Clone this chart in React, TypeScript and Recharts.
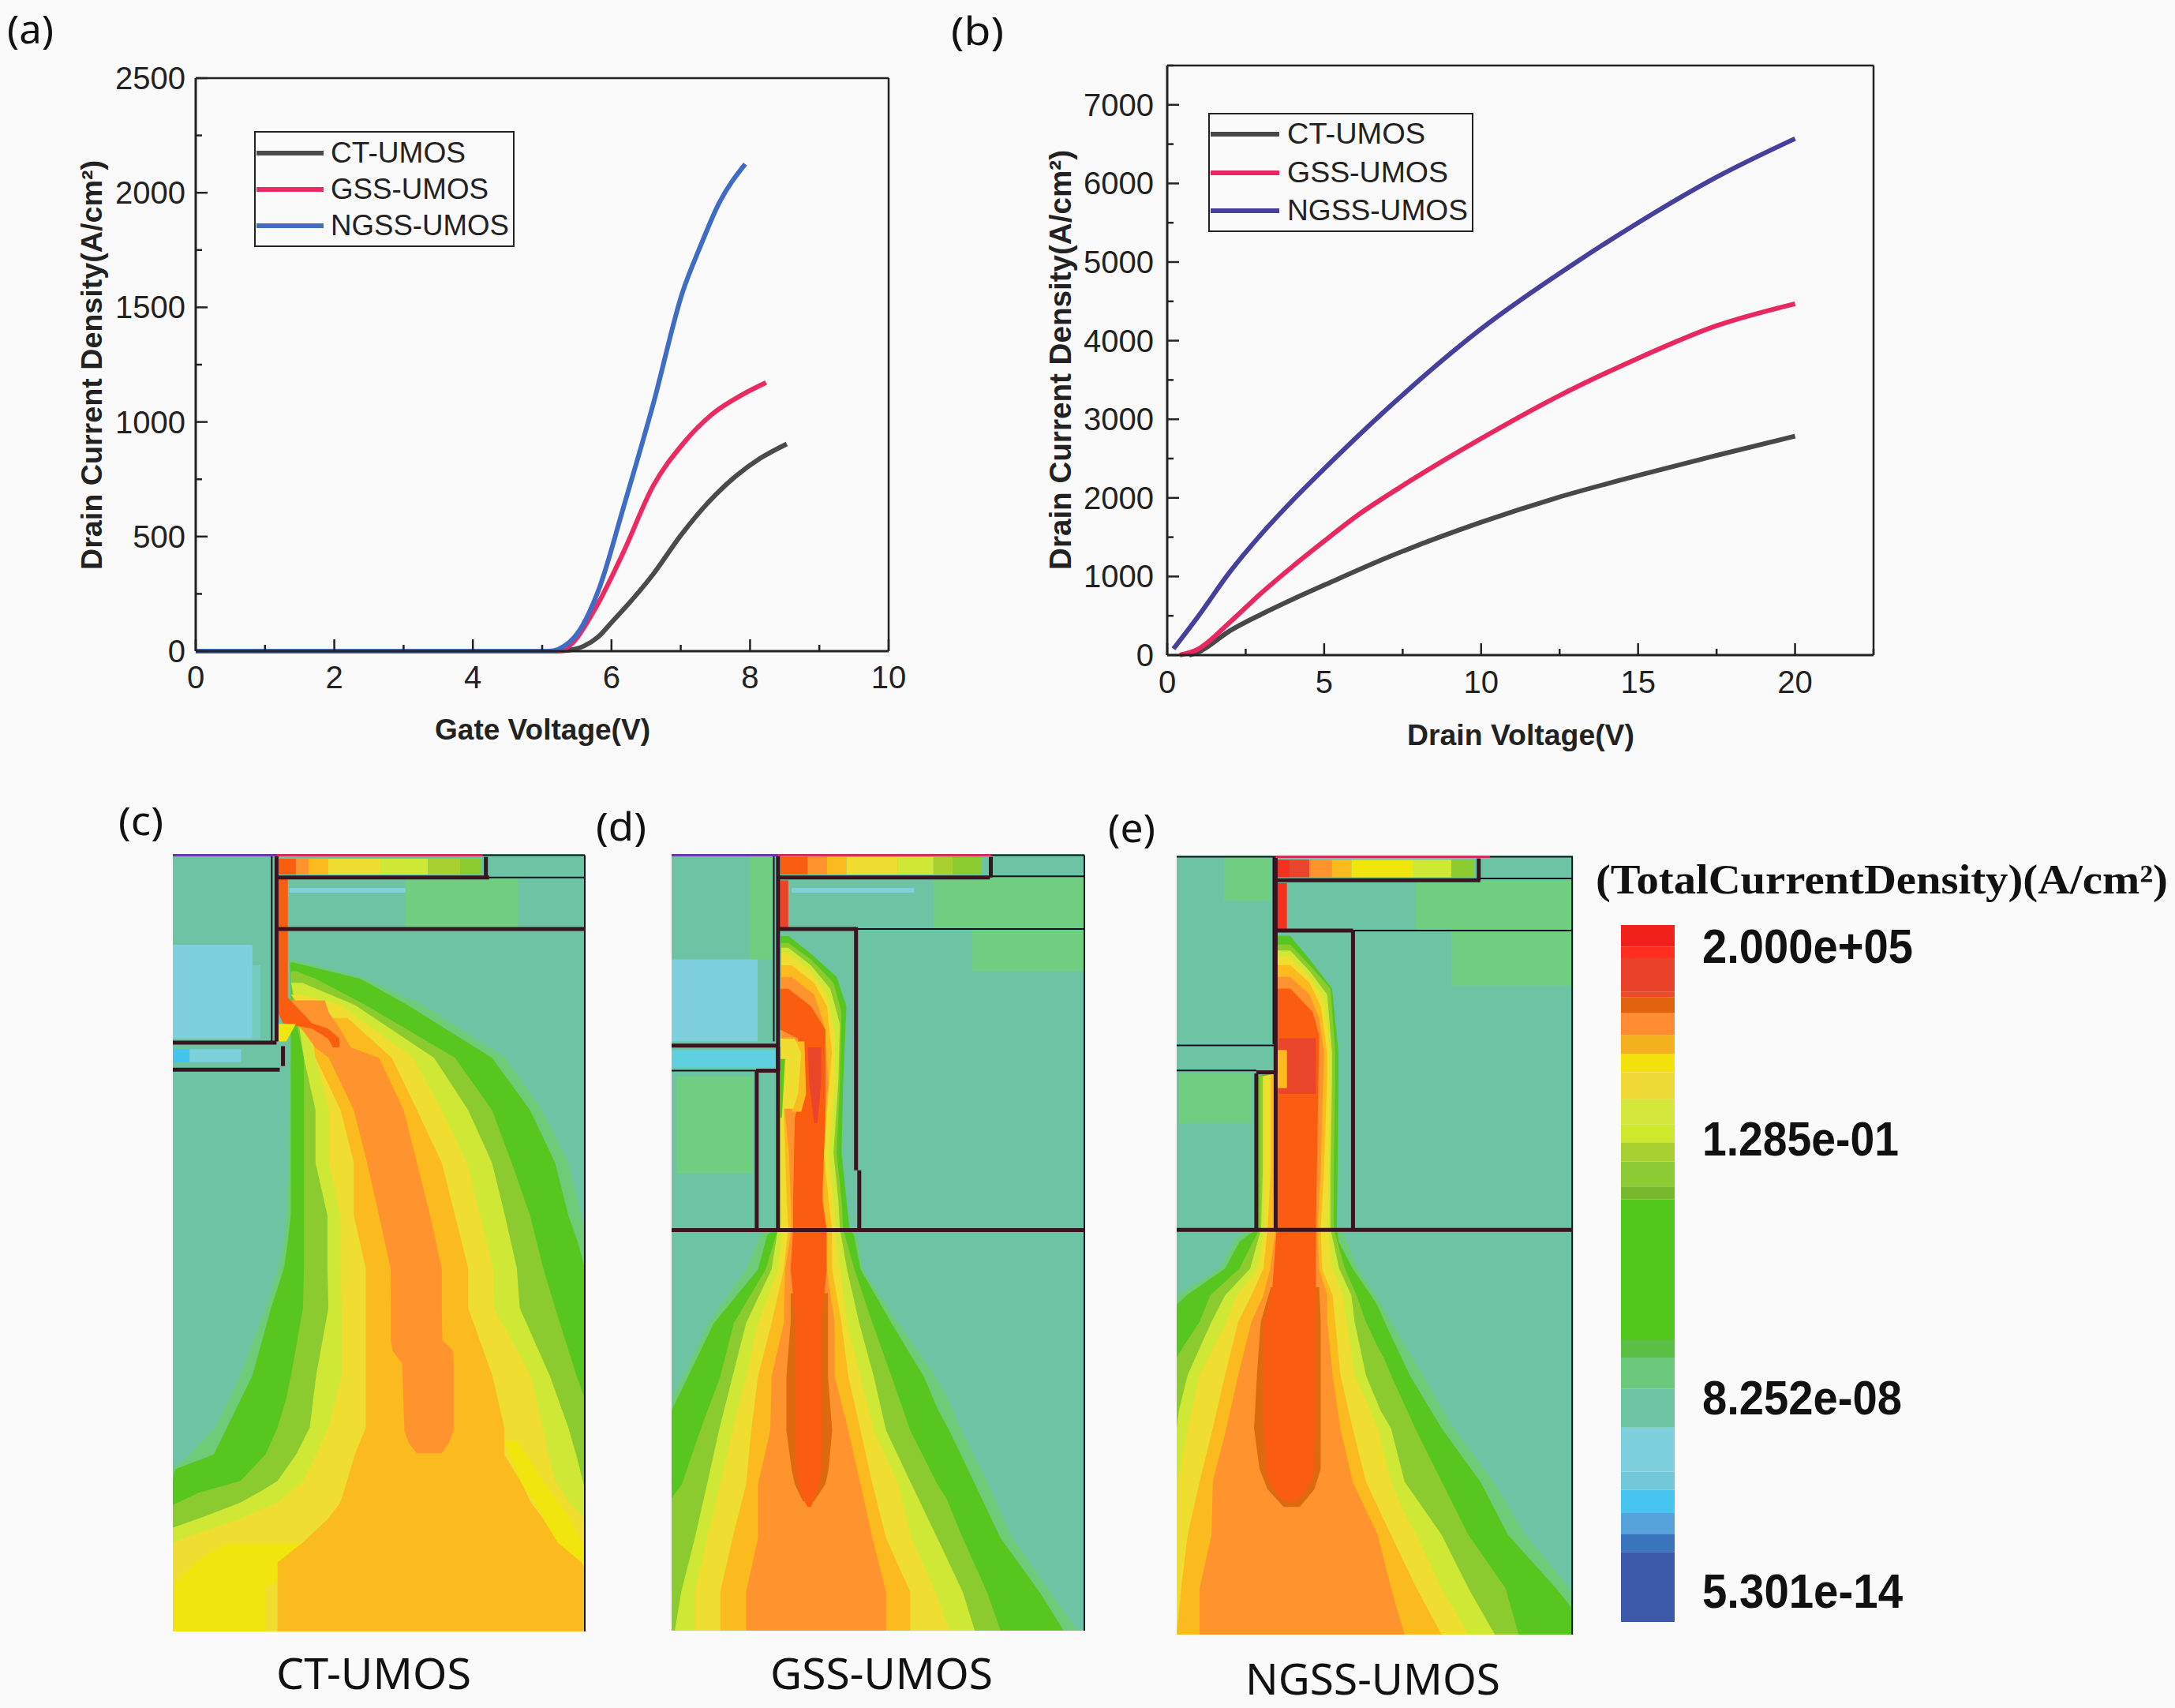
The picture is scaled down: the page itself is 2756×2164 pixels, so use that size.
import { Area, Bar, BarChart, ComposedChart, Line, LineChart, ReferenceLine, XAxis, YAxis } from 'recharts';

const W = 2756;
const H = 2164;
const sans = 'Liberation Sans';
const serif = 'Liberation Serif';
const label = 'Noto Sans';

// ---- (a) transfer curves
const gateTicks = [0, 1, 2, 3, 4, 5, 6, 7, 8, 9, 10];
const gateJTicks = [0, 250, 500, 750, 1000, 1250, 1500, 1750, 2000, 2250, 2500];
const ctGateV = [0, 5.2, 5.4, 5.6, 5.8, 6, 6.3, 6.6, 7, 7.4, 7.8, 8.14, 8.53];
const ctGateJ = [0, 0, 5, 22, 60, 125, 225, 335, 505, 650, 765, 840, 904];
const gssGateV = [0, 5.2, 5.4, 5.74, 6.17, 6.6, 7.03, 7.45, 7.88, 8.23];
const gssGateJ = [0, 0, 25, 172, 430, 720, 904, 1033, 1118, 1172];
const ngssGateV = [0, 5.1, 5.23, 5.53, 5.83, 6.17, 6.6, 7.03, 7.28, 7.54, 7.93];
const ngssGateJ = [0, 0, 8, 86, 280, 624, 1075, 1570, 1764, 1947, 2125];

// ---- (b) output curves
const drainTicks = [0, 2.5, 5, 7.5, 10, 12.5, 15, 17.5, 20, 22.5];
const drainJTicks = [0, 500, 1000, 1500, 2000, 2500, 3000, 3500, 4000, 4500, 5000, 5500, 6000, 6500, 7000, 7500];
const ctDrainV = [0.7, 1, 2, 3, 4, 5, 7, 10, 12.4, 15, 17.5, 20];
const ctDrainJ = [0, 40, 310, 520, 710, 890, 1240, 1690, 2000, 2285, 2540, 2786];
const gssDrainV = [0.4, 1, 2, 3, 4, 5, 6, 7.4, 10, 12.4, 15, 17.5, 20];
const gssDrainJ = [0, 80, 420, 790, 1130, 1450, 1760, 2130, 2754, 3282, 3776, 4190, 4470];
const ngssDrainV = [0.2, 1, 2, 3, 4, 5, 7, 10, 13, 15, 17.5, 20];
const ngssDrainJ = [80, 500, 1060, 1540, 1970, 2370, 3130, 4150, 4990, 5500, 6080, 6570];
const seriesNames = ['CT-UMOS', 'GSS-UMOS', 'NGSS-UMOS'];

// ---- colour scale, bottom to top
const scaleLabels = ['2.000e+05', '1.285e-01', '8.252e-08', '5.301e-14'];
const scaleBands = [135, 35, 40, 45, 35, 85, 75, 60, 35, 270, 25, 48, 37, 35, 48, 52, 35, 37, 43, 30, 10, 65, 22, 42];
const scaleColors = ['#3C58A8', '#3A74BC', '#58A2DC', '#48C4F0', '#70C8D8', '#7DD0DC', '#6CC4A4', '#6BC97C', '#5BBF45', '#52C81C', '#78B82C', '#8CCB34', '#A8D030', '#CEE82E', '#D4E83C', '#EFD935', '#F2E30C', '#F5B01E', '#FF8C30', '#E0620F', '#EE4A2A', '#E8432A', '#FF2E1E', '#F0201A'];

const teal = '#6CC4A4';
const pale = '#6FCE80';
const halo = '#6ECC78';
const sky = '#7DD0DC';
const green = '#57C71F';
const olive = '#8CCB30';
const lime = '#CFE835';
const yellow = '#EFDD30';
const bright = '#F0E60E';
const amber = '#FBBB1E';
const orange = '#FF932E';
const shell = '#DE6A10';
const deep = '#FA5C10';
const red = '#E8452A';
const maroon = '#3A1420';
const ink = '#14141E';
const purple = '#6A3AA8';
const crimson = '#D0305A';

type Row = number[];
const box = (y1: number, y2: number, l: number, r: number): Row[] => [[y1, l, r], [y2, l, r]];

// ---- (c) contour rows: depth, left edge, right edge
const cHalo = [[290,580,590],[323,585,817],[368,585,996],[458,585,1250],[547,580,1364],[637,578,1446],[727,570,1486],[760,565,1497],[817,545,1497],[885,506,1497],[1000,427,1497],[1089,349,1497],[1135,270,1497],[1160,218,1497],[1437,218,1497]];
const cGreen = [[295,582,590],[323,584,800],[368,584,947],[458,584,1209],[547,584,1327],[637,584,1405],[727,584,1446],[772,575,1475],[817,563,1497],[885,523,1497],[1000,465,1497],[1089,386,1497],[1135,345,1497],[1160,225,1497],[1180,218,1497],[1437,218,1497]];
const cOlive = [[310,585,600],[323,585,661],[368,590,817],[458,625,1094],[547,625,1209],[637,625,1270],[727,625,1327],[817,625,1368],[885,622,1405],[1000,585,1471],[1040,570,1497],[1089,543,1497],[1135,506,1497],[1180,428,1497],[1200,300,1497],[1221,218,1497],[1437,218,1497]];
const cLime = [[330,585,620],[368,600,784],[458,625,1029],[547,661,1135],[637,661,1209],[727,698,1249],[817,698,1286],[885,701,1295],[1000,663,1388],[1089,643,1446],[1135,601,1470],[1180,543,1491],[1195,500,1497],[1217,428,1497],[1244,300,1497],[1260,218,1497],[1437,218,1497]];
const cYellow = [[350,585,620],[368,610,739],[458,661,964],[547,702,1053],[637,702,1131],[727,739,1172],[817,739,1213],[885,742,1215],[1000,742,1330],[1089,701,1367],[1135,663,1385],[1180,622,1405],[1217,543,1450],[1244,428,1497],[1285,218,1497],[1437,218,1497]];
const cBrightLeft = [[1287,386,640],[1310,311,640],[1331,270,640],[1353,225,560],[1360,225,506],[1437,225,506]];
const cBrightRight = [[1112,1247,1288],[1180,1297,1367],[1240,1367,1446],[1294,1404,1497],[1322,1462,1497]];
const cAmber = [[390,640,760],[458,661,898],[547,739,976],[637,780,1053],[727,780,1094],[817,817,1135],[885,817,1135],[1000,817,1210],[1089,817,1247],[1135,783,1247],[1180,759,1297],[1217,738,1330],[1244,701,1367],[1285,622,1413],[1319,543,1487],[1330,543,1497],[1437,543,1497]];
const cOrange = [[360,545,690],[380,560,702],[410,620,739],[440,660,770],[458,702,858],[547,780,935],[637,821,976],[727,858,1017],[817,894,1053],[885,895,1053],[940,895,1055],[958,900,1088],[980,930,1090],[1094,937,1090],[1115,950,1075],[1133,975,1053]];
const cDeep = [[150,545,575],[355,545,575],[381,545,620],[399,560,650],[408,650,700],[425,700,735],[440,715,735]];
const cGlow = [[400,545,600],[430,545,570]];

// ---- (d)
const dHalo = [[752,530,820],[819,479,840],[911,362,951],[1002,283,1067],[1040,248,1105],[1094,248,1147],[1186,248,1230],[1278,248,1305],[1370,248,1422],[1436,248,1506]];
const dGreen = [[250,585,610],[280,590,680],[320,590,760],[370,590,790],[500,590,780],[620,580,775],[700,578,790],[750,575,800],[760,545,813],[819,516,834],[911,379,930],[1002,299,1030],[1060,248,1075],[1094,248,1109],[1186,248,1189],[1278,248,1268],[1370,248,1389],[1436,248,1464]];
const dOlive = [[262,588,610],[290,588,680],[330,588,750],[380,588,775],[500,585,770],[620,578,760],[700,578,775],[750,578,780],[819,540,815],[911,441,871],[1002,399,930],[1094,337,988],[1186,280,1072],[1210,248,1100],[1278,248,1151],[1370,248,1226],[1436,248,1268]];
const dLime = [[270,588,610],[300,588,680],[340,588,740],[400,588,770],[500,585,765],[620,580,750],[700,578,765],[750,578,770],[819,558,792],[911,479,830],[1002,437,875],[1094,395,913],[1186,358,992],[1278,320,1072],[1370,278,1151],[1436,258,1188]];
const dYellow = [[280,588,610],[310,588,680],[350,588,730],[420,588,755],[500,585,755],[620,585,735],[700,588,750],[750,590,755],[819,579,771],[911,516,792],[1002,479,834],[1094,437,875],[1186,399,951],[1278,358,992],[1370,320,1067],[1436,320,1109]];
const dAmber = [[300,588,620],[330,588,690],[370,590,730],[450,590,745],[620,600,720],[700,605,735],[750,610,745],[819,596,746],[911,558,775],[1002,516,796],[1094,495,834],[1186,479,871],[1278,437,913],[1370,399,988],[1436,399,988]];
const dOrange = [[320,588,620],[350,588,690],[400,588,720],[500,590,735],[620,612,710],[750,620,725],[819,600,729],[911,596,754],[1002,558,754],[1094,554,796],[1186,516,834],[1278,516,871],[1370,479,913],[1436,479,913]];
const dShell = [[860,617,733],[911,617,733],[1002,604,733],[1094,604,746],[1160,620,735],[1186,630,725],[1215,655,690]];
const dDeep = [[340,585,610],[370,585,680],[410,585,725],[425,640,725],[520,650,725],[560,630,725],[700,625,715],[750,625,729],[819,617,729],[911,633,713],[1002,633,713],[1094,633,713],[1160,633,713],[1186,640,705],[1205,650,695],[1225,670,680]];
const dRed = [[440,670,712],[500,675,712],[570,690,700]];
const dNotchAmber = [[430,625,660],[520,640,665],[550,620,650]];
const dNotchYellow = [[425,585,630],[450,585,650],[520,590,640],[545,590,625]];
const dNotchGreen = [[460,585,600],[560,585,590]];

// ---- (e)
const eHalo = [[752,460,760],[772,425,775],[818,381,810],[864,248,865],[909,248,913],[1000,248,1012],[1091,248,1107],[1182,248,1231],[1273,248,1330],[1364,248,1466],[1380,248,1477],[1443,248,1477]];
const eGreen = [[250,558,600],[290,558,660],[340,558,730],[450,558,750],[480,558,750],[490,500,750],[750,497,745],[772,443,750],[818,398,794],[864,278,851],[880,248,870],[909,248,893],[1000,248,971],[1091,248,1070],[1182,248,1190],[1273,248,1276],[1364,248,1425],[1400,248,1477],[1443,248,1477]];
const eOlive = [[265,558,600],[300,558,660],[340,558,725],[450,558,740],[485,558,740],[490,505,740],[650,505,735],[750,505,735],[818,443,770],[864,352,806],[909,319,835],[950,270,870],[970,248,890],[1000,248,913],[1091,248,988],[1182,248,1070],[1273,248,1153],[1364,248,1268],[1443,248,1309]];
const eLime = [[275,558,600],[310,558,660],[350,558,715],[450,558,730],[485,558,730],[490,515,730],[650,515,725],[750,510,725],[818,476,752],[864,398,790],[909,356,800],[1000,282,835],[1060,255,880],[1091,248,913],[1182,248,955],[1273,248,1070],[1364,248,1153],[1443,248,1235]];
const eYellow = [[285,558,600],[320,558,660],[360,558,705],[450,558,725],[485,558,725],[490,520,725],[650,520,720],[750,520,715],[818,500,732],[864,435,765],[909,402,775],[1000,319,800],[1091,282,872],[1182,253,913],[1230,248,950],[1273,248,992],[1364,248,1070],[1443,248,1153]];
const eAmber = [[300,558,600],[330,558,660],[370,558,695],[450,558,715],[485,558,715],[490,540,715],[650,540,705],[750,530,695],[818,517,699],[864,480,732],[909,439,740],[1000,398,756],[1091,360,794],[1182,319,835],[1273,282,913],[1364,262,992],[1443,248,1070]];
const eOrange = [[320,558,600],[350,558,660],[390,558,690],[450,558,705],[650,558,695],[750,555,685],[818,538,690],[864,517,715],[909,480,715],[1000,439,732],[1091,402,756],[1182,360,794],[1273,356,872],[1364,319,913],[1443,319,955]];
const eShell = [[850,540,690],[909,509,695],[1000,497,695],[1091,488,695],[1160,505,695],[1195,530,675],[1225,580,630]];
const eDeep = [[340,558,600],[380,558,670],[420,558,690],[750,558,680],[850,545,680],[909,517,678],[1000,517,678],[1091,517,678],[1160,525,675],[1182,534,666],[1205,560,640],[1216,585,620]];

// ---- device outlines: x1, y1, x2, y2
const cThin = [[218,112,1497,112],[1497,112,1497,1437],[525,112,525,430],[1200,150,1497,150]];
const cThick = [[540,112,540,430],[218,432,540,432],[218,478,550,478],[560,438,560,472],[540,150,1200,150],[1190,115,1190,150],[540,238,1497,238]];
const cPurple = [[218,112,540,112]];
const cCrimson = [[540,112,1180,112]];
const dThin = [[248,112,1528,112],[1528,112,1528,1436],[565,112,565,430],[248,480,510,480],[1235,148,1528,148],[820,238,1528,238]];
const dThick = [[578,112,578,750],[248,437,578,437],[510,480,578,480],[578,440,578,480],[512,480,512,750],[578,238,820,238],[578,150,1235,150],[1238,115,1238,150],[820,235,820,650],[830,650,830,750],[248,752,1528,752]];
const dPurple = [[248,112,1240,112]];
const dCrimson = [[578,112,1240,112]];
const eThin = [[248,115,1477,115],[1475,115,1475,1443],[548,115,548,435],[248,437,555,437],[248,480,495,480],[1190,152,1477,152],[795,241,1477,241]];
const eThick = [[555,115,555,750],[555,440,555,485],[495,483,555,483],[495,485,495,750],[555,241,795,241],[555,155,1190,155],[1185,118,1185,155],[795,241,795,750],[248,752,1477,752]];
const ePurple: Row[] = [];
const eCrimson = [[555,115,1220,115]];

const cLayers = [
  { color: teal, rows: box(110, 1437, 218, 1497) },
  { color: pale, rows: box(150, 238, 940, 1290) },
  { color: sky, rows: box(265, 425, 218, 465) },
  { color: '#74CCC0', rows: box(300, 425, 465, 490) },
  { color: '#46C4F0', rows: box(443, 465, 218, 270) },
  { color: sky, rows: box(443, 465, 270, 430) },
  { color: sky, rows: box(168, 176, 580, 940) },
  { color: halo, rows: cHalo },
  { color: green, rows: cGreen },
  { color: olive, rows: cOlive },
  { color: lime, rows: cLime },
  { color: yellow, rows: cYellow },
  { color: bright, rows: cBrightLeft },
  { color: bright, rows: cBrightRight },
  { color: amber, rows: cAmber },
  { color: orange, rows: cOrange },
  { color: deep, rows: cDeep },
  { color: bright, rows: cGlow },
  { color: deep, rows: box(118, 145, 545, 600) },
  { color: orange, rows: box(118, 145, 600, 640) },
  { color: amber, rows: box(118, 145, 640, 700) },
  { color: yellow, rows: box(118, 145, 700, 860) },
  { color: lime, rows: box(118, 145, 860, 1010) },
  { color: '#A8D030', rows: box(118, 145, 1010, 1110) },
  { color: olive, rows: box(118, 145, 1110, 1175) },
];

const dLayers = [
  { color: teal, rows: box(110, 1436, 248, 1528) },
  { color: pale, rows: box(112, 290, 490, 560) },
  { color: pale, rows: box(490, 655, 262, 500) },
  { color: pale, rows: box(150, 238, 1060, 1528) },
  { color: pale, rows: box(240, 310, 1180, 1528) },
  { color: sky, rows: box(290, 430, 248, 515) },
  { color: '#5FD0E0', rows: box(445, 475, 248, 570) },
  { color: sky, rows: box(168, 176, 620, 1000) },
  { color: halo, rows: dHalo },
  { color: green, rows: dGreen },
  { color: olive, rows: dOlive },
  { color: lime, rows: dLime },
  { color: yellow, rows: dYellow },
  { color: amber, rows: dAmber },
  { color: orange, rows: dOrange },
  { color: shell, rows: dShell },
  { color: deep, rows: dDeep },
  { color: red, rows: dRed },
  { color: amber, rows: dNotchAmber },
  { color: yellow, rows: dNotchYellow },
  { color: green, rows: dNotchGreen },
  { color: red, rows: box(155, 240, 582, 610) },
  { color: deep, rows: box(115, 145, 585, 670) },
  { color: orange, rows: box(115, 145, 670, 730) },
  { color: amber, rows: box(115, 145, 730, 790) },
  { color: yellow, rows: box(115, 145, 790, 950) },
  { color: lime, rows: box(115, 145, 950, 1060) },
  { color: '#A8D030', rows: box(115, 145, 1060, 1120) },
  { color: olive, rows: box(115, 145, 1120, 1210) },
];

const eLayers = [
  { color: teal, rows: box(113, 1443, 248, 1477) },
  { color: pale, rows: box(115, 190, 395, 540) },
  { color: pale, rows: box(485, 570, 255, 480) },
  { color: pale, rows: box(155, 240, 990, 1477) },
  { color: pale, rows: box(240, 335, 1100, 1477) },
  { color: halo, rows: eHalo },
  { color: green, rows: eGreen },
  { color: olive, rows: eOlive },
  { color: lime, rows: eLime },
  { color: yellow, rows: eYellow },
  { color: amber, rows: eAmber },
  { color: orange, rows: eOrange },
  { color: shell, rows: eShell },
  { color: deep, rows: eDeep },
  { color: red, rows: box(425, 520, 565, 680) },
  { color: amber, rows: box(445, 510, 560, 590) },
  { color: '#F5301F', rows: box(160, 240, 558, 590) },
  { color: '#F5301F', rows: box(120, 150, 555, 600) },
  { color: red, rows: box(120, 150, 600, 660) },
  { color: orange, rows: box(120, 150, 660, 730) },
  { color: amber, rows: box(120, 150, 730, 790) },
  { color: bright, rows: box(120, 150, 790, 980) },
  { color: lime, rows: box(120, 150, 980, 1100) },
  { color: olive, rows: box(120, 150, 1100, 1170) },
];

const layerStyle: any = { position: 'absolute', left: 0, top: 0, pointerEvents: 'none' };
const toPoints = (xs: number[], ys: number[]) => xs.map((v, i) => ({ v, j: ys[i] }));

function LegendBox({ x, y, w, h, lineW, textX, rows, colors, lengths }: any) {
  return (
    <g>
      <rect x={x} y={y} width={w} height={h} fill="none" stroke="#222" strokeWidth={2} />
      {seriesNames.map((name, i) => (
        <g key={name}>
          <line x1={x + 2} x2={x + lineW} y1={rows[i]} y2={rows[i]} stroke={colors[i]} strokeWidth={6} />
          <text x={textX} y={rows[i] + 12} fontFamily={sans} fontSize={36} fill="#222" textLength={lengths[i]} lengthAdjust="spacingAndGlyphs">{name}</text>
        </g>
      ))}
    </g>
  );
}

function CurvePanel({ plot, xDomain, yDomain, xTicks, yTicks, xMajor, yMajor, series, colors, xLabelY, yLabelX, children }: any) {
  const xTick = ({ x, y, payload }: any) => {
    const major = payload.value % xMajor === 0;
    return (
      <g>
        <line x1={x} x2={x} y1={y} y2={y - (major ? 15 : 8)} stroke="#222" strokeWidth={2.5} />
        {major && <text x={x} y={xLabelY} textAnchor="middle" fontFamily={sans} fontSize={40} fill="#222">{payload.value}</text>}
      </g>
    );
  };
  const yTick = ({ x, y, payload }: any) => {
    const major = payload.value % yMajor === 0;
    return (
      <g>
        <line x1={x} x2={x + (major ? 15 : 8)} y1={y} y2={y} stroke="#222" strokeWidth={2.5} />
        {major && <text x={yLabelX} y={y + 14} textAnchor="end" fontFamily={sans} fontSize={40} fill="#222">{payload.value}</text>}
      </g>
    );
  };
  return (
    <div style={layerStyle}>
      <LineChart width={W} height={H} margin={{ left: plot.left - 1, top: plot.top, right: W - plot.right, bottom: H - plot.bottom - 1 }}>
        <XAxis type="number" dataKey="v" domain={xDomain} ticks={xTicks} interval={0} height={1} tickSize={0} tickMargin={0} tickLine={false} tick={xTick} stroke="#222" strokeWidth={3} />
        <YAxis type="number" domain={yDomain} ticks={yTicks} interval={0} width={1} tickSize={0} tickMargin={0} tickLine={false} tick={yTick} stroke="#222" strokeWidth={3} />
        <ReferenceLine x={xDomain[1]} stroke="#222" strokeWidth={2.5} />
        <ReferenceLine y={yDomain[1]} stroke="#222" strokeWidth={2.5} />
        {series.map((pts: any, i: number) => (
          <Line key={seriesNames[i]} data={pts} dataKey="j" type="monotone" stroke={colors[i]} strokeWidth={6} dot={false} activeDot={false} isAnimationActive={false} />
        ))}
        {children}
      </LineChart>
    </div>
  );
}

function ContourPanel({ plot, xDomain, yDomain, layers, thin, thick, purpleEdge, crimsonEdge, tag, tagX, tagY, tagLen, name, nameX, nameY, nameLen }: any) {
  const segments = (list: Row[], key: string, color: string, width: number) =>
    list.map((s, i) => (
      <ReferenceLine key={`${key}${i}`} ifOverflow="visible" segment={[{ x: s[0], y: s[1] }, { x: s[2], y: s[3] }]} stroke={color} strokeWidth={width} />
    ));
  return (
    <div style={layerStyle}>
      <ComposedChart layout="vertical" width={W} height={H} margin={{ left: plot.left, top: plot.top, right: W - plot.right, bottom: H - plot.bottom }}>
        <XAxis type="number" hide domain={xDomain} allowDataOverflow />
        <YAxis type="number" hide dataKey="depth" domain={yDomain} allowDataOverflow />
        {layers.map((layer: any, i: number) => (
          <Area
            key={i}
            data={layer.rows.map((r: Row) => ({ depth: r[0], range: [r[1], r[2]] }))}
            dataKey="range"
            type="linear"
            stroke="none"
            fill={layer.color}
            fillOpacity={1}
            dot={false}
            activeDot={false}
            isAnimationActive={false}
          />
        ))}
        {segments(thin, 't', ink, 2)}
        {segments(thick, 'k', maroon, 5)}
        {segments(purpleEdge, 'p', purple, 3)}
        {segments(crimsonEdge, 'c', crimson, 3)}
        <text x={tagX} y={tagY} fontFamily={label} fontSize={50} fill="#111" textLength={tagLen} lengthAdjust="spacingAndGlyphs">{tag}</text>
        <text x={nameX} y={nameY} fontFamily={label} fontSize={54} fill="#111" textLength={nameLen} lengthAdjust="spacingAndGlyphs">{name}</text>
      </ComposedChart>
    </div>
  );
}

function ColorScale() {
  const row: any = { cat: 'scale' };
  scaleBands.forEach((b, i) => { row[`b${i}`] = b; });
  const labelY = [1220, 1464, 1792, 2037];
  const labelLen = [267, 249, 253, 254];
  return (
    <div style={layerStyle}>
      <BarChart width={W} height={H} data={[row]} barCategoryGap={0} margin={{ left: 2054, top: 1172, right: W - 2122, bottom: H - 2055 }}>
        <XAxis dataKey="cat" hide />
        <YAxis hide domain={[0, 1344]} allowDataOverflow />
        {scaleBands.map((_, i) => (
          <Bar key={i} dataKey={`b${i}`} stackId="scale" fill={scaleColors[i]} isAnimationActive={false} />
        ))}
        <text x={2022} y={1132} fontFamily={serif} fontWeight="bold" fontSize={52} fill="#111" textLength={725} lengthAdjust="spacingAndGlyphs">(TotalCurrentDensity)(A/cm²)</text>
        {scaleLabels.map((t, i) => (
          <text key={t} x={2157} y={labelY[i]} fontFamily={sans} fontWeight="bold" fontSize={62} fill="#111" textLength={labelLen[i]} lengthAdjust="spacingAndGlyphs">{t}</text>
        ))}
      </BarChart>
    </div>
  );
}

const lineColorsA = ['#4A4A4A', '#EC2A62', '#3F6CC4'];
const lineColorsB = ['#484848', '#E8285E', '#45409E'];

export default function App() {
  return (
    <div style={{ position: 'absolute', left: 0, top: 0, width: W, height: H, background: '#FAFAFA', overflow: 'hidden' }}>
      <CurvePanel
        plot={{ left: 248, top: 99, right: 1126, bottom: 825 }}
        xDomain={[0, 10]} yDomain={[0, 2500]} xTicks={gateTicks} yTicks={gateJTicks} xMajor={2} yMajor={500}
        xLabelY={872} yLabelX={235} colors={lineColorsA}
        series={[toPoints(ctGateV, ctGateJ), toPoints(gssGateV, gssGateJ), toPoints(ngssGateV, ngssGateJ)]}
      >
        <text x={9} y={55} fontFamily={label} fontSize={50} fill="#111" textLength={59} lengthAdjust="spacingAndGlyphs">(a)</text>
        <text transform="translate(129,722) rotate(-90)" fontFamily={sans} fontWeight="bold" fontSize={36} fill="#222" textLength={519} lengthAdjust="spacingAndGlyphs">Drain Current Density(A/cm²)</text>
        <text x={551} y={937} fontFamily={sans} fontWeight="bold" fontSize={36} fill="#222" textLength={273} lengthAdjust="spacingAndGlyphs">Gate Voltage(V)</text>
        <LegendBox x={323} y={167} w={328} h={145} lineW={87} textX={419} rows={[194, 240, 286]} colors={lineColorsA} lengths={[171, 200, 226]} />
      </CurvePanel>
      <CurvePanel
        plot={{ left: 1479, top: 83, right: 2374, bottom: 830 }}
        xDomain={[0, 22.5]} yDomain={[0, 7500]} xTicks={drainTicks} yTicks={drainJTicks} xMajor={5} yMajor={1000}
        xLabelY={878} yLabelX={1462} colors={lineColorsB}
        series={[toPoints(ctDrainV, ctDrainJ), toPoints(gssDrainV, gssDrainJ), toPoints(ngssDrainV, ngssDrainJ)]}
      >
        <text x={1205} y={57} fontFamily={label} fontSize={50} fill="#111" textLength={67} lengthAdjust="spacingAndGlyphs">(b)</text>
        <text transform="translate(1357,722) rotate(-90)" fontFamily={sans} fontWeight="bold" fontSize={38} fill="#222" textLength={532} lengthAdjust="spacingAndGlyphs">Drain Current Density(A/cm²)</text>
        <text x={1783} y={944} fontFamily={sans} fontWeight="bold" fontSize={37} fill="#222" textLength={288} lengthAdjust="spacingAndGlyphs">Drain Voltage(V)</text>
        <LegendBox x={1532} y={144} w={334} h={149} lineW={89} textX={1631} rows={[170, 219, 267]} colors={lineColorsB} lengths={[175, 204, 229]} />
      </CurvePanel>
      <ContourPanel
        plot={{ left: 219, top: 1082, right: 741, bottom: 2067 }} xDomain={[218, 1497]} yDomain={[110, 1437]}
        layers={cLayers} thin={cThin} thick={cThick} purpleEdge={cPurple} crimsonEdge={cCrimson}
        tag="(c)" tagX={150} tagY={1058} tagLen={57} name="CT-UMOS" nameX={350} nameY={2140} nameLen={247}
      />
      <ContourPanel
        plot={{ left: 851, top: 1082, right: 1374, bottom: 2066 }} xDomain={[248, 1528]} yDomain={[110, 1436]}
        layers={dLayers} thin={dThin} thick={dThick} purpleEdge={dPurple} crimsonEdge={dCrimson}
        tag="(d)" tagX={755} tagY={1065} tagLen={64} name="GSS-UMOS" nameX={976} nameY={2140} nameLen={282}
      />
      <ContourPanel
        plot={{ left: 1491, top: 1084, right: 1993, bottom: 2071 }} xDomain={[248, 1477]} yDomain={[113, 1443]}
        layers={eLayers} thin={eThin} thick={eThick} purpleEdge={ePurple} crimsonEdge={eCrimson}
        tag="(e)" tagX={1404} tagY={1067} tagLen={60} name="NGSS-UMOS" nameX={1578} nameY={2147} nameLen={323}
      />
      <ColorScale />
    </div>
  );
}
